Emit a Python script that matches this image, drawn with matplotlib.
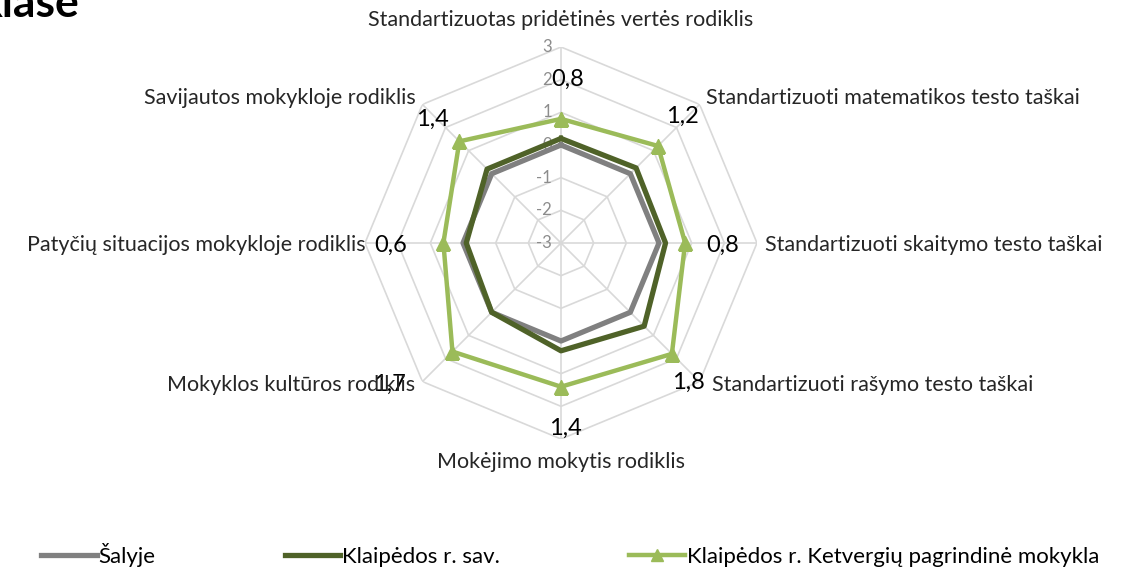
import numpy as np
import matplotlib
matplotlib.use("Agg")
import matplotlib.pyplot as plt

plt.rcParams['font.family'] = ['Lato', 'DejaVu Sans']

categories = [
    "Standartizuotas pridėtinės vertės rodiklis",
    "Standartizuoti matematikos testo taškai",
    "Standartizuoti skaitymo testo taškai",
    "Standartizuoti rašymo testo taškai",
    "Mokėjimo mokytis rodiklis",
    "Mokyklos kultūros rodiklis",
    "Patyčių situacijos mokykloje rodiklis",
    "Savijautos mokykloje rodiklis",
]
salyje = [0, 0, 0, 0, 0, 0, 0, 0]
savivaldybe = [0.2, 0.25, 0.2, 0.6, 0.3, 0.0, -0.1, 0.2]
mokykla = [0.8, 1.2, 0.8, 1.8, 1.4, 1.7, 0.6, 1.4]
mokykla_labels = ["0,8", "1,2", "0,8", "1,8", "1,4", "1,7", "0,6", "1,4"]
levels = [-3, -2, -1, 0, 1, 2, 3]
series_names = ["Šalyje", "Klaipėdos r. sav.", "Klaipėdos r. Ketvergių pagrindinė mokykla"]

W, H = 1124, 576
fig = plt.figure(figsize=(W / 100, H / 100), dpi=100)
cx, cy, R = 561, 243, 196
ax = fig.add_axes([(cx - R) / W, (H - cy - R) / H, 2 * R / W, 2 * R / H], projection='polar')
ax.set_theta_zero_location('N')
ax.set_theta_direction(-1)
ax.set_ylim(-3, 3)
ax.grid(False)
ax.spines['polar'].set_visible(False)
ax.set_xticks([])
ax.set_yticks([])
ax.patch.set_visible(False)

n = len(categories)
ang = np.arange(n) * 2 * np.pi / n
closed = np.append(ang, ang[0])

grid_c = '#d9d9d9'
for lv in levels:
    ax.plot(closed, [lv] * (n + 1), color=grid_c, lw=1.2, zorder=1)
for a in ang:
    ax.plot([a, a], [-3, 3], color=grid_c, lw=1.2, zorder=1)

for lv in levels:
    ax.annotate(str(lv), (0, lv), xytext=(-9, 0), textcoords='offset pixels',
                ha='right', va='center', fontsize=12, color='#8c8c8c', zorder=2)

def close(v):
    return list(v) + [v[0]]

ax.plot(closed, close(salyje), color='#808080', lw=3.8, zorder=3, label=series_names[0])
ax.plot(closed, close(savivaldybe), color='#4f6228', lw=3.8, zorder=4, label=series_names[1])
ax.plot(closed, close(mokykla), color='#9bbb59', lw=3.2, marker='^', ms=10,
        zorder=5, label=series_names[2])

offsets = [(7, 40), (24, 30), (37, -2), (17, -28), (4, -42), (-63, -33), (-53, -2), (-27, 22)]
for a, v, t, off in zip(ang, mokykla, mokykla_labels, offsets):
    ax.annotate(t, (a, v), xytext=off, textcoords='offset pixels', ha='center',
                va='center', fontsize=17, color='black', zorder=6)

cat_pos = [(561, 20, 'center'), (706, 98, 'left'), (765, 245, 'left'), (712, 385, 'left'),
           (561, 462, 'center'), (415, 385, 'right'), (366, 245, 'right'), (416, 98, 'right')]
for c, (x, y, ha) in zip(categories, cat_pos):
    fig.text(x / W, 1 - y / H, c, ha=ha, va='center', fontsize=15.5, color='#262626')

fig.text(79 / W, 1 - 17 / H, "klase", ha='right', va='baseline', fontsize=32,
         fontweight='bold', color='black')

fig.legend(loc='center left', bbox_to_anchor=(21 / W, 1 - 555 / H), ncol=3, frameon=False,
           fontsize=16, handlelength=2.5, handletextpad=0.1, columnspacing=5.8,
           markerscale=0.9)

fig.savefig('out.png', dpi=100)
